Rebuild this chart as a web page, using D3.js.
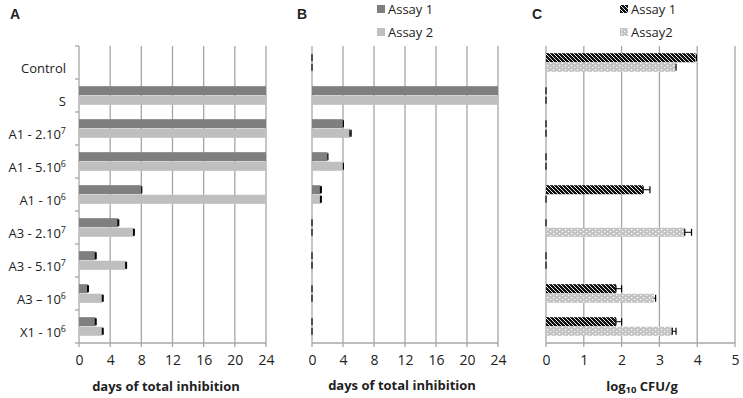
<!DOCTYPE html>
<html>
<head>
<meta charset="utf-8">
<script src="https://cdn.jsdelivr.net/npm/d3@7"></script>
<style>
  body { margin: 0; background: #fff; }
  svg { display: block; font-family: 'Open Sans', sans-serif; }
</style>
</head>
<body>
<div id="chart"></div>
<script>
// Categories (label base + superscript exponent)
const labelBase = ['Control', 'S', 'A1 - 2.10', 'A1 - 5.10', 'A1 - 10', 'A3 - 2.10', 'A3 - 5.10', 'A3 \u2013 10', 'X1 - 10']
const labelExp = ['', '', '7', '6', '6', '7', '7', '6', '6']
const categories = labelBase.map((d, i) => d + labelExp[i])

// Panel A: days of total inhibition
const assay1A = [0, 24, 24, 24, 8, 5, 2.1, 1.1, 2.1]
const assay2A = [0, 24, 24, 24, 24, 7, 6, 3, 3]
const err1A = [null, null, null, null, 0.05, 0.1, 0.1, 0.1, 0.1]
const err2A = [null, null, null, null, null, 0.1, 0.1, 0.1, 0.1]

// Panel B: days of total inhibition
const assay1B = [0, 24, 4, 2, 1.1, 0, 0, 0, 0]
const assay2B = [0, 24, 4.9, 4, 1.1, 0, 0, 0, 0]
const err1B = [0, null, 0.05, 0.05, 0.1, 0, 0, 0, 0]
const err2B = [0, null, 0.15, 0.05, 0.1, 0, 0, 0, 0]

// Panel C: log10 CFU/g
const assay1C = [3.95, 0, 0, 0, 2.57, 0, 0, 1.85, 1.85]
const assay2C = [3.42, 0, 0, 0, 0, 3.67, 0, 2.85, 3.34]
const err1C = [0.03, 0, 0, 0, 0.18, 0, 0, 0.15, 0.15]
const err2C = [0.02, 0, 0, 0, 0, 0.18, 0, 0.05, 0.1]

const ticksDays = [0, 4, 8, 12, 16, 20, 24]
const ticksLog = [0, 1, 2, 3, 4, 5]

const width = 743, height = 398
const plotTop = 46, plotBottom = 343
const gridColor = '#a6a6a6'

const svg = d3.select('#chart').append('svg')
  .attr('width', width)
  .attr('height', height)

// Patterns for panel C
const defs = svg.append('defs')
const hatch = defs.append('pattern')
  .attr('id', 'hatch')
  .attr('patternUnits', 'userSpaceOnUse')
  .attr('width', 4).attr('height', 4)
hatch.append('rect').attr('width', 4).attr('height', 4).attr('fill', '#111')
hatch.append('path')
  .attr('d', 'M-1,-1 L5,5 M-1,3 L1,5 M3,-1 L5,1')
  .attr('stroke', '#fff').attr('stroke-width', 0.9)
const dots = defs.append('pattern')
  .attr('id', 'dots')
  .attr('patternUnits', 'userSpaceOnUse')
  .attr('width', 6).attr('height', 4)
dots.append('rect').attr('width', 6).attr('height', 4).attr('fill', '#c4c4c4')
dots.append('rect').attr('x', 1).attr('y', 1).attr('width', 1.3).attr('height', 1.3).attr('fill', '#fff')
dots.append('rect').attr('x', 4).attr('y', 3).attr('width', 1.3).attr('height', 1).attr('fill', '#fff')

const y = d3.scaleBand().domain(categories).range([plotTop, plotBottom]).padding(0)
const ySub = d3.scaleBand().domain(['a1', 'a2']).range([0, y.bandwidth()])
  .paddingOuter(0.75).paddingInner(0.05)

function drawPanel({x, ticks, series, leftTicks, title, titleX, titleY}) {
  const g = svg.append('g')

  // Gridlines
  g.selectAll('.grid')
    .data(ticks)
    .join('line')
    .attr('class', 'grid')
    .attr('x1', d => x(d)).attr('x2', d => x(d))
    .attr('y1', plotTop).attr('y2', plotBottom + 4)
    .attr('stroke', gridColor)
    .attr('stroke-width', 1.3)

  // Bottom axis line
  g.append('line')
    .attr('x1', x(ticks[0])).attr('x2', x(ticks[ticks.length - 1]))
    .attr('y1', plotBottom).attr('y2', plotBottom)
    .attr('stroke', gridColor).attr('stroke-width', 1.3)

  // Category boundary ticks
  if (leftTicks) {
    const bounds = categories.map(c => y(c)).concat([plotBottom])
    g.selectAll('.ctick')
      .data(bounds)
      .join('line')
      .attr('class', 'ctick')
      .attr('x1', x(0) - 4).attr('x2', x(0))
      .attr('y1', d => d).attr('y2', d => d)
      .attr('stroke', gridColor).attr('stroke-width', 1.3)
  }

  // Bars
  series.forEach(s => {
    g.selectAll(null)
      .data(s.values.map((v, i) => ({v: v, c: categories[i]})))
      .join('rect')
      .attr('x', x(0))
      .attr('y', d => y(d.c) + ySub(s.key))
      .attr('width', d => x(d.v) - x(0))
      .attr('height', ySub.bandwidth())
      .attr('fill', s.fill)
  })

  // Error bars
  series.forEach(s => {
    const eb = s.values.map((v, i) => ({v: v, e: s.err[i], c: categories[i]}))
      .filter(d => d.e !== null)
    const ebG = g.selectAll(null).data(eb).join('g')
      .attr('transform', d => `translate(0,${y(d.c) + ySub(s.key) + ySub.bandwidth() / 2})`)
    ebG.append('line')
      .attr('x1', d => x(d.v)).attr('x2', d => x(d.v + d.e))
      .attr('y1', 0).attr('y2', 0)
      .attr('stroke', '#000').attr('stroke-width', 1)
    ebG.append('line')
      .attr('x1', d => x(d.v + d.e)).attr('x2', d => x(d.v + d.e))
      .attr('y1', -3.5).attr('y2', 3.5)
      .attr('stroke', '#000').attr('stroke-width', 1.2)
    ebG.filter(d => d.e >= 0.1).append('line')
      .attr('x1', d => x(d.v)).attr('x2', d => x(d.v))
      .attr('y1', -3.5).attr('y2', 3.5)
      .attr('stroke', '#000').attr('stroke-width', 1.2)
  })

  // Tick labels
  const xAxis = g.append('g')
    .attr('transform', `translate(0,${plotBottom})`)
    .call(d3.axisBottom(x).tickValues(ticks).tickFormat(d3.format('d')).tickSize(0).tickPadding(12))
  xAxis.select('.domain').remove()
  xAxis.selectAll('text')
    .style('font-size', '14px')
    .style('font-family', "'Open Sans', sans-serif")
    .attr('fill', '#222')

  // Axis title
  g.append('text')
    .attr('x', titleX).attr('y', titleY)
    .attr('text-anchor', 'middle')
    .style('font-size', '13px')
    .style('font-weight', 'bold')
    .attr('fill', '#222')
    .call(title)
}

const xA = d3.scaleLinear().domain([0, 24]).range([79, 266])
const xB = d3.scaleLinear().domain([0, 24]).range([312, 498])
const xC = d3.scaleLinear().domain([0, 5]).range([546, 735])

drawPanel({
  x: xA, ticks: ticksDays, leftTicks: true,
  series: [
    {key: 'a1', values: assay1A, err: err1A, fill: '#7f7f7f'},
    {key: 'a2', values: assay2A, err: err2A, fill: '#bfbfbf'}
  ],
  title: t => t.text('days of total inhibition'), titleX: 166, titleY: 391
})

drawPanel({
  x: xB, ticks: ticksDays, leftTicks: false,
  series: [
    {key: 'a1', values: assay1B, err: err1B, fill: '#7f7f7f'},
    {key: 'a2', values: assay2B, err: err2B, fill: '#bfbfbf'}
  ],
  title: t => t.text('days of total inhibition'), titleX: 402, titleY: 390
})

drawPanel({
  x: xC, ticks: ticksLog, leftTicks: false,
  series: [
    {key: 'a1', values: assay1C, err: err1C, fill: 'url(#hatch)'},
    {key: 'a2', values: assay2C, err: err2C, fill: 'url(#dots)'}
  ],
  title: t => {
    t.append('tspan').text('log')
    t.append('tspan').attr('dy', 2).style('font-size', '9.5px').text('10')
    t.append('tspan').attr('dy', -2).text(' CFU/g')
  },
  titleX: 642, titleY: 391
})

// Category labels
const catLabels = svg.append('g')
  .selectAll('text')
  .data(categories)
  .join('text')
  .attr('x', 66)
  .attr('y', d => y(d) + y.bandwidth() / 2 + 10)
  .attr('text-anchor', 'end')
  .style('font-size', '13px')
  .attr('fill', '#222')
catLabels.append('tspan').text((d, i) => labelBase[i])
catLabels.append('tspan')
  .attr('dy', -5)
  .style('font-size', '9px')
  .text((d, i) => labelExp[i])

// Panel letters
svg.selectAll('.letter')
  .data([['A', 10], ['B', 297], ['C', 532]])
  .join('text')
  .attr('class', 'letter')
  .attr('x', d => d[1]).attr('y', 19)
  .style('font-family', "'Liberation Sans', Arial, sans-serif")
  .style('font-size', '14px')
  .style('font-weight', 'bold')
  .attr('fill', '#222')
  .text(d => d[0])

// Legends
const legendB = [{label: 'Assay 1', fill: '#7f7f7f'}, {label: 'Assay 2', fill: '#bfbfbf'}]
const legendC = [{label: 'Assay 1', fill: 'url(#hatch)'}, {label: 'Assay2', fill: 'url(#dots)'}]

function drawLegend(items, x0) {
  const lg = svg.append('g').selectAll('g')
    .data(items)
    .join('g')
    .attr('transform', (d, i) => `translate(${x0},${9 + i * 23})`)
  lg.append('rect')
    .attr('x', 0).attr('y', -4)
    .attr('width', 8).attr('height', 8)
    .attr('fill', d => d.fill)
  lg.append('text')
    .attr('x', 11).attr('y', 5)
    .style('font-size', '13px')
    .attr('fill', '#222')
    .text(d => d.label)
}
drawLegend(legendB, 377)
drawLegend(legendC, 620)
</script>
</body>
</html>
